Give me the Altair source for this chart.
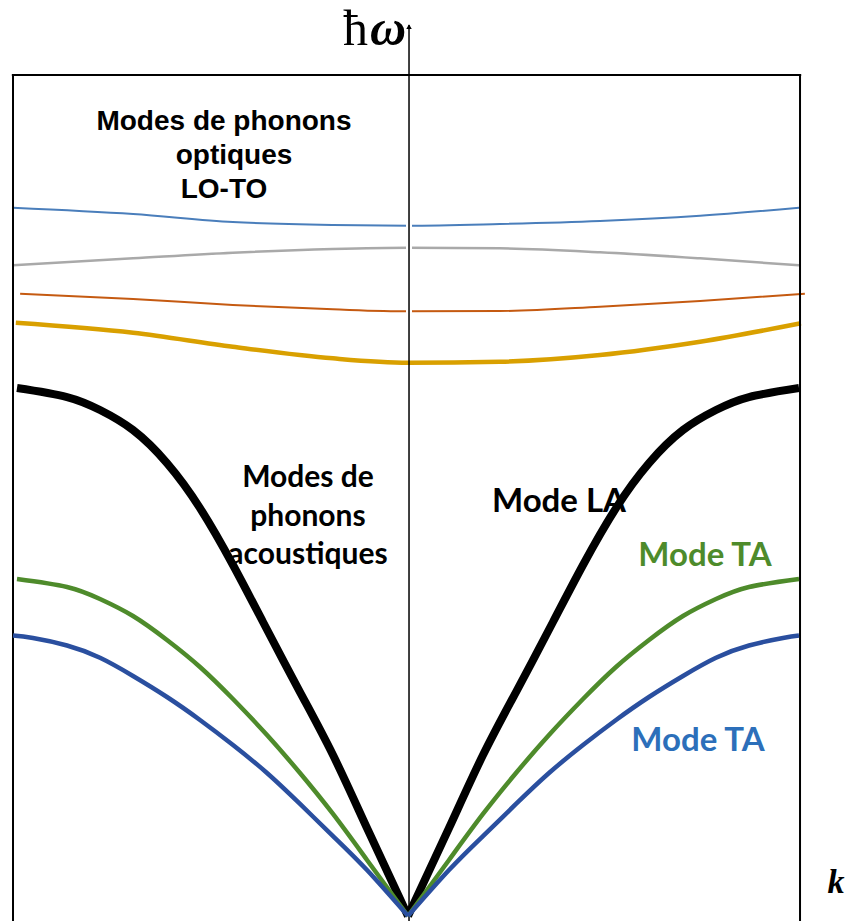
import altair as alt
import pandas as pd

# ---------------- data (k in units of the zone edge, omega in arbitrary units) ----------------
# optical branches
K_LO1 = [-1.010, -0.703, -0.448, -0.192, 0.0, 0.235, 0.491, 0.747, 1.0]
W_LO1 = [84.22, 83.47, 82.52, 82.16, 82.08, 82.28, 82.64, 83.27, 84.22]
K_TO1 = [-1.010, -0.703, -0.448, -0.192, 0.0, 0.235, 0.491, 0.747, 1.0]
W_TO1 = [77.37, 78.20, 78.87, 79.31, 79.46, 79.39, 78.92, 78.20, 77.37]
K_LO2 = [-0.992, -0.703, -0.448, -0.192, 0.0, 0.235, 0.491, 0.747, 1.015]
W_LO2 = [74.00, 73.37, 72.65, 72.14, 71.90, 71.94, 72.45, 73.13, 74.00]
K_TO2 = [-1.003, -0.703, -0.448, -0.192, 0.0, 0.235, 0.491, 0.747, 1.005]
W_TO2 = [70.55, 69.36, 67.69, 66.31, 65.79, 65.91, 66.71, 68.29, 70.48]

# acoustic branches: |k| grid and omega (both halves of the zone)
K_LA = [0.0, 0.1049, 0.1918, 0.2762, 0.3708, 0.4476, 0.5320, 0.6164, 0.7033, 0.7877, 0.8721, 1.0]
W_LA = [0.0, 10.46, 19.14, 26.63, 34.96, 41.74, 48.51, 53.86, 57.79, 60.17, 61.71, 62.78]

K_TA1 = [0.0, 0.1049, 0.1918, 0.2762, 0.3606, 0.4476, 0.5320, 0.6164, 0.7033, 0.7877, 0.8721, 1.0]
W_TA1 = [0.0, 6.66, 12.13, 17.00, 21.52, 25.80, 29.61, 32.82, 35.67, 37.69, 39.12, 40.07]

K_TA2 = [0.0, 0.1049, 0.1918, 0.2762, 0.3606, 0.4476, 0.5320, 0.6164, 0.7033, 0.7877, 0.8721, 0.9591, 1.0102]
W_TA2 = [0.0, 5.47, 9.51, 13.32, 17.00, 20.33, 23.31, 26.04, 28.54, 30.70, 32.16, 33.05, 33.35]

# frame / axis extents (data units)
K_FRAME_L, K_FRAME_R = -1.0102, 1.0026
W_FRAME_TOP = 100.0
K_AXIS = 0.0026
W_AXIS_TOP = 105.95

XD = [-1.0230, 1.1253]
YD = [-0.595, 107.97]

# labels
LBL_OPT = ["Modes de phonons", "optiques", "LO-TO"]
LBL_ACO = ["Modes de", "phonons", "acoustiques"]

xs = alt.Scale(domain=XD)
ys = alt.Scale(domain=YD)
X = lambda f="k": alt.X(f"{f}:Q", scale=xs, axis=None)
Y = lambda f="w": alt.Y(f"{f}:Q", scale=ys, axis=None)


def curve(ks, ws, color, width, interp="monotone"):
    df = pd.DataFrame({"k": ks, "w": ws})
    return alt.Chart(df).mark_line(color=color, strokeWidth=width, interpolate=interp,
                                   strokeCap="butt").encode(x=X(), y=Y())


def halves(ks, ws, color, width):
    left = curve([-k for k in ks], ws, color, width, "natural")
    right = curve([min(k, 1.0) for k in ks], ws, color, width, "natural")
    return [left, right]


layers = []
# optical
layers.append(curve(K_LO1, W_LO1, "#4a7ebb", 2))
layers.append(curve(K_TO1, W_TO1, "#a9a9a9", 2.5))
layers.append(curve(K_LO2, W_LO2, "#c55a11", 2))
layers.append(curve(K_TO2, W_TO2, "#d9a000", 4.5))

# white halo behind the vertical axis across the thin optical lines
halo = pd.DataFrame({"k": [K_AXIS], "w": [71.4], "w2": [84.8]})
layers.append(alt.Chart(halo).mark_rule(color="white", strokeWidth=6).encode(
    x=X(), y=Y(), y2="w2:Q"))

# frame (left, right, top)
fr = pd.DataFrame({"k": [K_FRAME_L, K_FRAME_R], "w": [YD[0], YD[0]], "w2": [W_FRAME_TOP, W_FRAME_TOP]})
layers.append(alt.Chart(fr).mark_rule(color="black", strokeWidth=2).encode(
    x=X(), y=Y(), y2="w2:Q"))
ft = pd.DataFrame({"k": [K_FRAME_L - 0.003], "k2": [K_FRAME_R + 0.003], "w": [W_FRAME_TOP]})
layers.append(alt.Chart(ft).mark_rule(color="black", strokeWidth=2).encode(
    x=X(), x2="k2:Q", y=Y()))

# vertical energy axis with arrow
ax = pd.DataFrame({"k": [K_AXIS], "w": [YD[0]], "w2": [W_AXIS_TOP]})
layers.append(alt.Chart(ax).mark_rule(color="black", strokeWidth=1.5).encode(
    x=X(), y=Y(), y2="w2:Q"))
arr = pd.DataFrame({"k": [K_AXIS], "w": [W_AXIS_TOP - 0.2]})
layers.append(alt.Chart(arr).mark_point(shape="triangle-up", filled=True, color="black",
                                         size=30, opacity=1).encode(x=X(), y=Y()))

# acoustic
layers += halves(K_LA, W_LA, "black", 8)
layers += halves(K_TA1, W_TA1, "#4e8b2b", 4.5)
layers += halves(K_TA2, W_TA2, "#2a4f9f", 4.5)

# text labels
t_opt = pd.DataFrame({"t": LBL_OPT, "k": [-0.4706, -0.445, -0.4706], "w": [94.41, 90.37, 86.33]})
layers.append(alt.Chart(t_opt).mark_text(font="Liberation Sans", fontWeight="bold", fontSize=28,
                                          color="black", align="center", baseline="middle").encode(
    x=X(), y=Y(), text="t:N"))
t_aco = pd.DataFrame({"t": LBL_ACO, "k": [-0.2558, -0.2558, -0.2558], "w": [52.08, 47.44, 42.93]})
layers.append(alt.Chart(t_aco).mark_text(font="Lato", fontWeight="bold", fontSize=30,
                                          color="black", align="center", baseline="middle").encode(
    x=X(), y=Y(), text="t:N"))

modes = pd.DataFrame({"t": ["Mode LA", "Mode TA", "Mode TA"],
                      "k": [0.3862, 0.7596, 0.7417], "w": [49.17, 42.84, 20.81],
                      "c": ["black", "#4e8b2b", "#2c6fba"]})
layers.append(alt.Chart(modes).mark_text(font="Lato", fontWeight="bold", fontSize=33,
                                          align="center", baseline="middle").encode(
    x=X(), y=Y(), text="t:N", color=alt.Color("c:N", scale=None)))

hb = pd.DataFrame({"t": ["ħ"], "k": [-0.1343], "w": [103.57]})
layers.append(alt.Chart(hb).mark_text(font="Liberation Serif", fontSize=50, color="black",
                                       align="center", baseline="alphabetic").encode(
    x=X(), y=Y(), text="t:N"))
om = pd.DataFrame({"t": ["ω"], "k": [-0.0512], "w": [103.57]})
layers.append(alt.Chart(om).mark_text(font="Liberation Serif", fontSize=50, fontWeight="bold",
                                       fontStyle="italic", color="black",
                                       align="center", baseline="alphabetic").encode(
    x=X(), y=Y(), text="t:N"))
kk = pd.DataFrame({"t": ["k"], "k": [1.0946], "w": [2.73]})
layers.append(alt.Chart(kk).mark_text(font="Liberation Serif", fontSize=34, fontWeight="bold",
                                       fontStyle="italic", color="black",
                                       align="center", baseline="alphabetic").encode(
    x=X(), y=Y(), text="t:N"))

chart = alt.layer(*layers).properties(
    width=840, height=913, padding=0, autosize=alt.AutoSizeParams(type="none")
).configure_view(stroke=None)

chart.save("out.html", embed_options={"renderer": "svg", "actions": False})
